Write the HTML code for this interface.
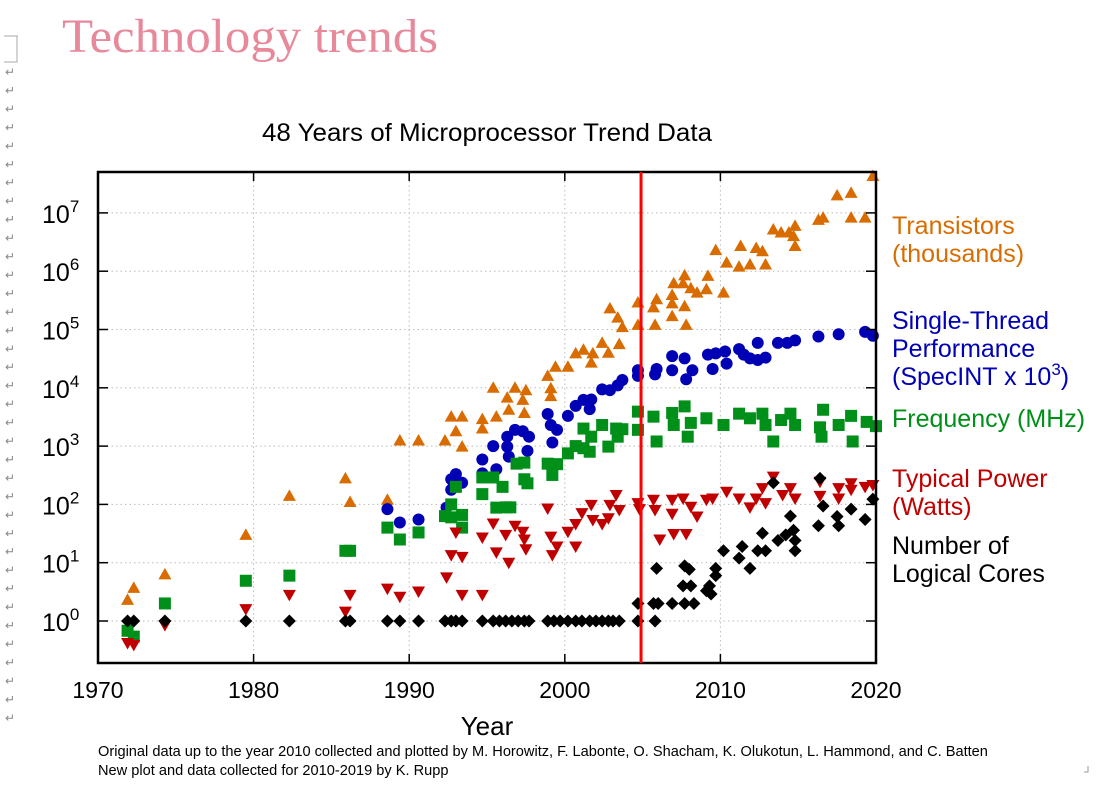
<!DOCTYPE html>
<html><head><meta charset="utf-8"><style>
html,body{margin:0;padding:0;background:#fff;}
svg{display:block;font-family:"Liberation Sans",sans-serif;}
</style></head><body>
<svg id="chart" width="1099" height="795" viewBox="0 0 1099 795" xmlns="http://www.w3.org/2000/svg">
<rect width="1099" height="795" fill="#fff"/>
<path d="M4 36 H18 M17 36 V62 H4" fill="none" stroke="#aaa" stroke-width="1"/>
<g id="arrows" fill="#888" font-size="12"></g>
<text x="62" y="52" font-family="Liberation Serif,serif" font-size="48" fill="#e8899b" textLength="376" lengthAdjust="spacingAndGlyphs">Technology trends</text>
<text x="487" y="141" text-anchor="middle" font-size="25" textLength="450" lengthAdjust="spacingAndGlyphs" fill="#000">48 Years of Microprocessor Trend Data</text>
<g id="grid"></g>
<g id="marks"></g>
<g id="axes"></g>
<text x="487" y="735" text-anchor="middle" font-size="26">Year</text>
<g font-size="25">
<text x="892" y="234" fill="#d96c00"><tspan x="892">Transistors</tspan><tspan x="892" dy="28">(thousands)</tspan></text>
<text x="892" y="329" fill="#0000b4"><tspan x="892">Single-Thread</tspan><tspan x="892" dy="28">Performance</tspan><tspan x="892" dy="28">(SpecINT x 10</tspan><tspan dy="-10" font-size="17">3</tspan><tspan dy="10">)</tspan></text>
<text x="892" y="427" fill="#00901a">Frequency (MHz)</text>
<text x="892" y="487" fill="#c00000"><tspan x="892">Typical Power</tspan><tspan x="892" dy="28">(Watts)</tspan></text>
<text x="892" y="554" fill="#000"><tspan x="892">Number of</tspan><tspan x="892" dy="28">Logical Cores</tspan></text>
</g>
<text x="98" y="756" font-size="14.6">Original data up to the year 2010 collected and plotted by M. Horowitz, F. Labonte, O. Shacham, K. Olukotun, L. Hammond, and C. Batten</text>
<text x="98" y="775" font-size="14.6">New plot and data collected for 2010-2019 by K. Rupp</text>
<path d="M1088 766 V772 H1084" fill="none" stroke="#999"/>
</svg>
<script>
const xTicks = [1970,1980,1990,2000,2010,2020];
const yTicks = [0,1,2,3,4,5,6,7];
const markerYear = 2004.9;
const transistors = [[1971.9,2.3],[1972.3,3.7],[1974.3,6.3],[1979.5,30],[1982.3,140],[1985.9,280],[1986.2,110],[1988.6,120],[1989.4,1250],[1990.6,1250],[1992.3,1250],[1992.7,3200],[1993.4,3200],[1993.0,1800],[1993.4,980],[1994.7,2900],[1994.7,2000],[1995.4,10000],[1995.6,3200],[1996.3,6800],[1996.4,4200],[1996.8,10000],[1997.3,6200],[1997.5,9100],[1997.4,3700],[1998.9,16000],[1999.1,9800],[1999.1,7200],[1999.4,23000],[2000.2,23000],[2000.7,39000],[2001.2,45000],[2001.7,27000],[2001.8,39000],[2002.4,59000],[2002.8,40000],[2002.9,230000],[2003.4,160000],[2003.5,56000],[2003.7,110000],[2004.7,290000],[2004.7,120000],[2005.7,240000],[2005.9,330000],[2005.8,120000],[2006.9,390000],[2006.9,280000],[2006.9,170000],[2007.0,620000],[2007.7,850000],[2007.6,620000],[2008.1,510000],[2008.5,430000],[2007.7,250000],[2007.8,120000],[2009.2,830000],[2009.1,490000],[2010.2,430000],[2009.7,2300000],[2010.4,1400000],[2011.2,1200000],[2011.3,2700000],[2011.9,1300000],[2012.3,2500000],[2012.7,2200000],[2012.9,1300000],[2013.4,5200000],[2013.9,4600000],[2014.4,4600000],[2014.8,6000000],[2014.7,4000000],[2014.8,2700000],[2016.3,7600000],[2016.6,8300000],[2017.5,20000000],[2018.4,22000000],[2018.4,8300000],[2019.3,8300000],[2019.8,43000000]];
const singleThread = [[1988.6,83],[1989.4,49],[1990.6,55],[1992.4,88],[1992.7,178],[1992.7,270],[1993.0,330],[1993.4,235],[1994.7,590],[1994.7,340],[1995.4,1000],[1995.6,400],[1996.3,1450],[1996.3,980],[1996.4,660],[1996.8,1900],[1997.3,1800],[1997.7,1450],[1997.6,830],[1998.9,3550],[1999.1,2300],[1999.5,1900],[1999.2,1150],[2000.2,3300],[2000.7,4900],[2001.2,6200],[2001.7,6300],[2001.6,4300],[2002.4,9400],[2002.9,9100],[2003.4,11000],[2003.7,13600],[2004.7,20000],[2004.7,16000],[2005.8,17000],[2005.9,21000],[2006.9,20000],[2006.9,35000],[2007.7,32000],[2008.2,20000],[2007.8,14000],[2009.2,37000],[2009.7,39000],[2010.3,42000],[2009.5,21000],[2010.4,26000],[2011.2,46000],[2011.5,37000],[2011.9,32000],[2012.4,59000],[2012.4,30000],[2012.9,33000],[2013.7,59000],[2014.3,59000],[2014.8,65000],[2016.3,76000],[2017.6,83000],[2019.3,91000],[2019.8,78000]];
const frequency = [[1971.9,0.68],[1972.3,0.54],[1974.3,2.0],[1979.5,4.9],[1982.3,6.0],[1985.9,16],[1986.2,16],[1988.6,40],[1989.4,25],[1990.6,33],[1992.3,63],[1992.7,100],[1992.7,60],[1993.0,200],[1993.4,66],[1993.4,40],[1994.7,150],[1994.7,290],[1995.4,290],[1995.6,88],[1996.0,200],[1996.2,89],[1996.5,89],[1996.9,500],[1997.4,520],[1997.4,270],[1997.6,230],[1998.9,500],[1999.2,320],[1999.5,490],[2000.2,750],[2000.7,1000],[2001.2,2000],[2001.2,920],[2001.6,800],[2001.7,1450],[2002.4,2300],[2002.8,980],[2003.3,2000],[2003.4,1450],[2003.7,1950],[2004.7,3900],[2004.7,1900],[2005.7,3200],[2005.9,1200],[2006.9,3700],[2007.0,2300],[2007.7,4800],[2007.9,1450],[2008.1,2500],[2009.1,3000],[2010.2,2300],[2011.2,3600],[2011.9,3000],[2012.7,3600],[2012.9,2300],[2013.4,1200],[2013.9,2800],[2014.5,3600],[2014.8,2300],[2016.6,4200],[2016.4,2100],[2016.5,1450],[2017.6,2300],[2018.4,3300],[2018.5,1200],[2019.4,2600],[2020.0,2200]];
const power = [[1971.9,0.42],[1972.3,0.39],[1974.3,0.85],[1979.5,1.6],[1982.3,2.8],[1985.9,1.45],[1986.2,2.8],[1988.6,3.6],[1989.4,2.6],[1990.6,3.2],[1992.4,5.6],[1992.7,13.5],[1993.0,33],[1993.4,12.6],[1993.4,2.8],[1994.7,27],[1994.7,2.8],[1995.4,47],[1995.6,15],[1996.2,30],[1996.4,10],[1996.8,43],[1997.3,34],[1997.4,25],[1997.5,17],[1998.9,85],[1999.1,28],[1999.2,13.5],[1999.5,19],[2000.2,34],[2000.7,19],[2000.7,46],[2001.1,71],[2001.7,98],[2001.8,54],[2002.4,46],[2002.8,58],[2002.9,98],[2003.3,145],[2003.5,80],[2004.7,105],[2004.8,83],[2005.7,120],[2005.8,80],[2006.1,25],[2006.9,120],[2006.9,69],[2007.0,31],[2007.6,126],[2007.8,31],[2008.1,91],[2008.5,62],[2009.1,120],[2009.5,126],[2010.4,165],[2011.2,126],[2011.9,89],[2012.3,126],[2012.7,190],[2012.9,105],[2013.4,300],[2014.0,145],[2014.5,190],[2014.8,126],[2016.4,245],[2016.4,140],[2017.6,190],[2017.6,126],[2018.4,230],[2018.4,178],[2019.3,200],[2019.8,215]];
const cores = [[1971.9,1],[1972.3,1],[1974.3,1],[1979.5,1],[1982.3,1],[1985.9,1],[1986.2,1],[1988.6,1],[1989.4,1],[1990.6,1],[1992.3,1],[1992.7,1],[1993.0,1],[1993.4,1],[1994.7,1],[1995.4,1],[1995.8,1],[1996.2,1],[1996.6,1],[1997.0,1],[1997.4,1],[1997.7,1],[1998.9,1],[1999.3,1],[1999.7,1],[2000.2,1],[2000.7,1],[2001.1,1],[2001.6,1],[2002.0,1],[2002.4,1],[2002.8,1],[2003.1,1],[2003.5,1],[2004.7,1],[2005.8,1],[2004.7,2],[2005.7,2],[2006.0,2],[2006.9,2],[2007.7,2],[2008.3,2],[2007.6,4],[2008.1,4],[2009.1,3.3],[2009.3,4],[2009.4,2.9],[2009.7,8],[2009.7,6],[2005.9,8],[2007.7,8.8],[2008.0,7.7],[2010.2,16],[2011.2,12],[2011.4,19],[2011.9,8],[2012.4,16],[2012.9,16],[2012.7,32],[2013.4,235],[2013.7,24],[2014.2,30],[2014.5,63],[2014.7,36],[2014.8,24],[2014.8,16],[2016.4,280],[2016.3,43],[2016.6,94],[2017.5,62],[2017.6,43],[2018.4,83],[2019.3,55],[2019.8,123]];

const NS='http://www.w3.org/2000/svg';
const L=98,R=876,T=172,B=663;
function xs(yr){return L+(yr-1970)*(R-L)/50;}
function ys(v){return 621-Math.log10(v)*58.3;}
function el(tag,attrs,parent){const e=document.createElementNS(NS,tag);for(const k in attrs)e.setAttribute(k,attrs[k]);parent.appendChild(e);return e;}

const arrows=document.getElementById('arrows');
for(let y=76;y<=740;y+=18.45){const t=el('text',{x:5,y:y},arrows);t.textContent='↵';

}

const grid=document.getElementById('grid'),axes=document.getElementById('axes'),marks=document.getElementById('marks');
xTicks.forEach(yr=>{const x=xs(yr);
 if(yr>1970&&yr<2020){const g=el('line',{x1:x,x2:x,y1:T,y2:B,stroke:'#bbb','stroke-dasharray':'1.5,3','stroke-width':1},grid);
 
 
 el('line',{x1:x,x2:x,y1:T,y2:T+9,stroke:'#000','stroke-width':1.5},axes);
 el('line',{x1:x,x2:x,y1:B,y2:B-9,stroke:'#000','stroke-width':1.5},axes);}
 const t=el('text',{x:x,y:698,'text-anchor':'middle','font-size':23},axes);t.textContent=yr;
 
 
});
yTicks.forEach(e=>{const y=ys(Math.pow(10,e));
 const g=el('line',{x1:L,x2:R,y1:y,y2:y,stroke:'#bbb','stroke-dasharray':'1.5,3','stroke-width':1},grid);
 
 
 el('line',{x1:L,x2:L+10,y1:y,y2:y,stroke:'#000','stroke-width':1.5},axes);
 el('line',{x1:R,x2:R-10,y1:y,y2:y,stroke:'#000','stroke-width':1.5},axes);
 const t=el('text',{x:42,y:y+10,'font-size':25},axes);
 
 
 t.textContent='10';const s=el('tspan',{dy:-11,'font-size':17},t);s.textContent=e;
});
const frame=el('rect',{x:L,y:T,width:R-L,height:B-T,fill:'none',stroke:'#000','stroke-width':2.5},axes);


const ml=el('line',{x1:xs(markerYear),x2:xs(markerYear),y1:T,y2:B,stroke:'#f00','stroke-width':3},axes);



function draw(data,shape,color,name){data.forEach(d=>{const x=xs(d[0]),y=ys(d[1]);let m;
 if(shape==='up')m=el('polygon',{points:`${x},${y-6.5} ${x+6.5},${y+5} ${x-6.5},${y+5}`,fill:color},marks);
 else if(shape==='down')m=el('polygon',{points:`${x},${y+6.5} ${x+6.5},${y-5} ${x-6.5},${y-5}`,fill:color},marks);
 else if(shape==='circle')m=el('circle',{cx:x,cy:y,r:6,fill:color},marks);
 else if(shape==='square')m=el('rect',{x:x-6,y:y-6,width:12,height:12,fill:color},marks);
 else m=el('polygon',{points:`${x},${y-6.5} ${x+6.5},${y} ${x},${y+6.5} ${x-6.5},${y}`,fill:color},marks);
 
 
});}
draw(transistors,'up','#d96c00','transistors-point');
draw(singleThread,'circle','#0000b4','single-thread-point');
draw(frequency,'square','#00901a','frequency-point');
draw(power,'down','#c00000','power-point');
draw(cores,'diamond','#000','cores-point');
</script>
</body></html>
